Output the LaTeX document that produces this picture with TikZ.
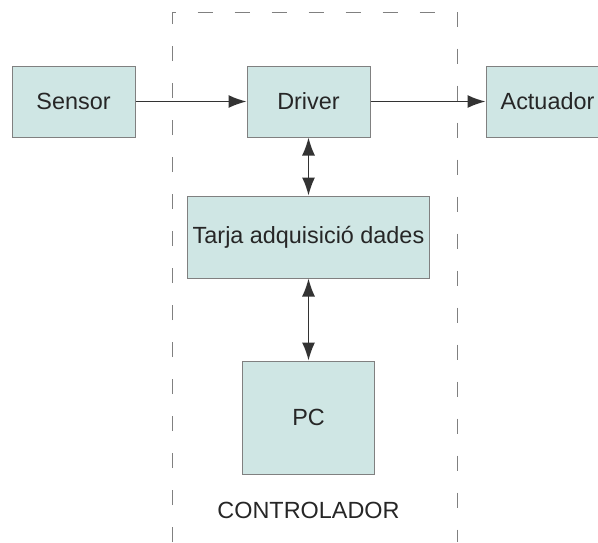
\documentclass[tikz,border=0pt]{standalone}
\usepackage{fontspec}
\setmainfont{Liberation Sans}
\usepackage{tikz}
\usetikzlibrary{arrows.meta,positioning}
\definecolor{boxfill}{HTML}{CFE6E4}
\definecolor{boxline}{HTML}{808080}

\begin{document}
\begin{tikzpicture}[
		> = {Latex[length=9pt,width=6.5pt]}, % arrow head style
		x = 1pt, y = 1pt,
		node distance = 117.5pt, % distance between nodes
		line width = 0.75pt % line style
	]
	
	\tikzstyle{block}=[
	draw = boxline,
	line width = 0.5pt,
	fill = boxfill,
	font = \fontsize{11.7}{14}\selectfont,
	text = black!85,
	minimum width = 61.5pt,
	minimum height = 35.5pt,
	inner sep = 0pt
	]
	
	\clip (0,0) rectangle (299,-271);
	
	% controller frame, open at the bottom
	\draw[gray, line width = 0.5pt, dash pattern = on 7.5pt off 11pt] (86.25,-271) -- (86.25,-6) -- (228.5,-6) -- (228.5,-271);
	
	\node[block] (sensor) at (36.75,-50.75) {Sensor};
	\node[block, right of = sensor] (driver) {Driver};
	\node[block, right of = driver, xshift=2pt] (actuador) {Actuador};
	
	\node[block, below of = driver, yshift=49.75pt, minimum width=121pt, minimum height=41pt] (tarja) {Tarja adquisició dades};
	\node[block, below of = tarja, yshift=27.25pt, minimum width=66pt, minimum height=56.5pt] (pc) {PC};
	\node[font = \fontsize{11.7}{14}\selectfont, text = black!85, below of = pc, yshift=71.25pt] (ctrl) {CONTROLADOR};
	
	\draw[->, draw = black!80] (sensor) -- (driver);
	\draw[->, draw = black!80] (driver) -- (actuador);
	\draw[<->, draw = black!80] (driver) -- (tarja);
	\draw[<->, draw = black!80] (tarja) -- (pc);
\end{tikzpicture}
\end{document}
